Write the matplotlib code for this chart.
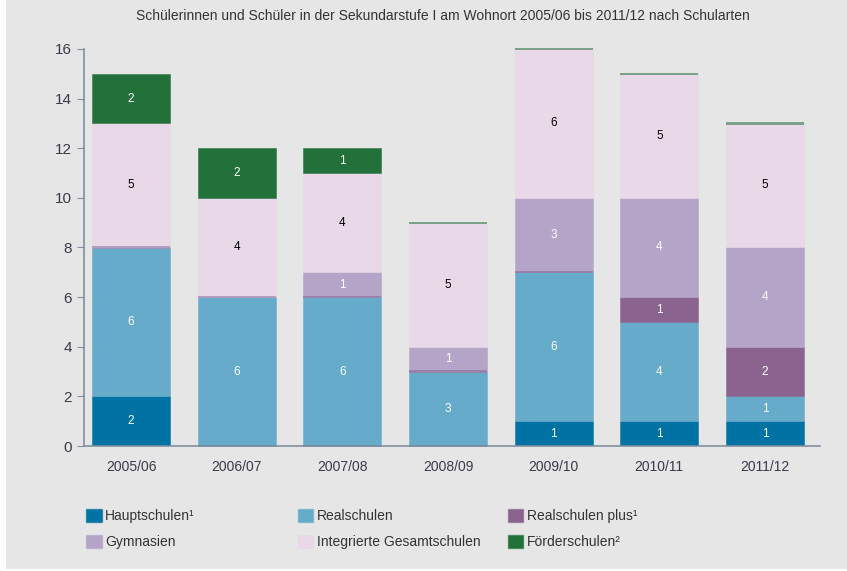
import matplotlib.pyplot as plt
from matplotlib.patches import Patch, Rectangle
import matplotlib.colors as mcolors

plt.rcParams['font.family'] = ['Liberation Sans', 'DejaVu Sans']

years = ['2005/06', '2006/07', '2007/08', '2008/09', '2009/10', '2010/11', '2011/12']
names = ['Hauptschulen\u00b9', 'Realschulen', 'Realschulen plus\u00b9',
         'Gymnasien', 'Integrierte Gesamtschulen', 'F\u00f6rderschulen\u00b2']
hauptschulen = [2, 0, 0, 0, 1, 1, 1]
realschulen = [6, 6, 6, 3, 6, 4, 1]
realschulen_plus = [0, 0, 0, 0, 0, 1, 2]
gymnasien = [0, 0, 1, 1, 3, 4, 4]
gesamtschulen = [5, 4, 4, 5, 6, 5, 5]
foerderschulen = [2, 2, 1, 0, 0, 0, 0]

series = [hauptschulen, realschulen, realschulen_plus, gymnasien, gesamtschulen, foerderschulen]
colors = ['#0072a3', '#66abc9', '#8a638f', '#b4a4c8', '#e8d8e8', '#22703a']
label_colors = ['white', 'white', 'white', 'white', 'black', 'white']

bg = '#e6e6e6'
fig = plt.figure(figsize=(8.47, 5.71), dpi=100, facecolor='white')
# grey panel, leaving a thin white strip on the left
fig.add_artist(Rectangle((6 / 847, 2 / 571), 1, 1, transform=fig.transFigure,
                         facecolor=bg, edgecolor='none', zorder=0))
ax = fig.add_axes([0.0992, 0.2189, 0.8688, 0.6953], facecolor=bg)

x = list(range(len(years)))
bottom = [0] * len(years)
for vals, col, lc in zip(series, colors, label_colors):
    for i, v in enumerate(vals):
        if v == 0:
            # empty segment shows up as a thin line
            ax.bar(i, 0.09, bottom=bottom[i] - 0.045, width=0.74,
                   color=mcolors.to_rgba(col, 0.55), linewidth=0, zorder=3,
                   clip_on=False)
        else:
            ax.bar(i, v, bottom=bottom[i], width=0.74, color=col,
                   edgecolor=mcolors.to_rgba(col, 0.6), linewidth=0.6, zorder=2)
            ax.text(i, bottom[i] + v / 2, str(v), ha='center', va='center',
                    fontsize=8.5, color=lc, zorder=4)
        bottom[i] += v

ax.set_xlim(-0.445, 6.52)
ax.set_ylim(0, 16)
ax.set_yticks(range(0, 17, 2))
ax.set_xticks(x)
ax.set_xticklabels(years)

spine_col = '#8090a0'
for s in ['top', 'right']:
    ax.spines[s].set_visible(False)
for s in ['left', 'bottom']:
    ax.spines[s].set_color(spine_col)
    ax.spines[s].set_linewidth(1.2)
    ax.spines[s].set_zorder(5)
ax.tick_params(axis='y', colors=spine_col, labelcolor='#3a3a4a', labelsize=11, length=5, direction='out')
ax.tick_params(axis='x', length=0, labelcolor='#3a3a4a', labelsize=10, pad=10)

fig.text(0.523, 0.972, 'Sch\u00fclerinnen und Sch\u00fcler in der Sekundarstufe I am Wohnort 2005/06 bis 2011/12 nach Schularten',
         ha='center', va='center', fontsize=10, color='#333333')

# legend: three columns, filled row by row
handles = [Patch(facecolor=c, edgecolor=mcolors.to_rgba(c, 0.6)) for c in colors]
col_x = [0.102, 0.352, 0.600]
for k in range(3):
    idx = [k, k + 3]
    leg = fig.legend([handles[j] for j in idx], [names[j] for j in idx],
                     loc='upper left', bbox_to_anchor=(col_x[k], 0.109),
                     frameon=False, fontsize=10, handlelength=1.1, handleheight=1.1,
                     handletextpad=0.25, labelspacing=0.85, borderpad=0,
                     borderaxespad=0, labelcolor='#333333')

fig.savefig('out.png', dpi=100, facecolor='white')
